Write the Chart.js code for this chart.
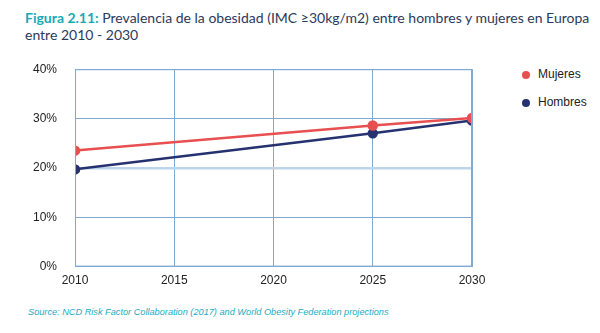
<!DOCTYPE html>
<html>
<head>
<meta charset="utf-8">
<script src="https://cdn.jsdelivr.net/npm/chart.js@4.4.0/dist/chart.umd.min.js"></script>
<style>
  body { margin: 0; background: #fff; width: 600px; height: 333px; position: relative; overflow: hidden; }
  .title { position: absolute; left: 25px; top: 9px; font-family: "Lato", sans-serif; font-size: 14px; line-height: 17px; color: #2b3a5a; white-space: nowrap; }
  .title b { color: #1aa9b6; font-weight: 700; }
  .wrap { position: absolute; left: 0; top: 44px; width: 500px; height: 251px; }
  .legend { position: absolute; left: 522px; top: 67px; font-family: "Liberation Sans", Arial, sans-serif; font-size: 12px; color: #222; }
  .legend div { height: 28px; display: flex; align-items: flex-start; }
  .legend span.dot { display: inline-block; width: 8px; height: 8px; border-radius: 50%; margin-right: 8px; margin-top: 4px; }
  .source { position: absolute; left: 28px; top: 307px; font-family: "Liberation Sans", Arial, sans-serif; font-size: 9.2px; font-style: italic; color: #21adbf; }
</style>
</head>
<body>
<div class="title"><b>Figura 2.11:</b> Prevalencia de la obesidad (IMC ≥30kg/m2) entre hombres y mujeres en Europa<br>entre 2010 - 2030</div>
<div class="wrap"><canvas id="chart"></canvas></div>
<div class="legend" id="legend"></div>
<div class="source">Source: NCD Risk Factor Collaboration (2017) and World Obesity Federation projections</div>
<script>
const years = [2010, 2025, 2030];
const mujeres = [23.5, 28.6, 30.1];
const hombres = [19.7, 27.0, 29.6];
const seriesNames = ['Mujeres', 'Hombres'];
const seriesColors = ['#e84f50', '#263270'];

function toPoints(values) {
  return values.map((v, i) => ({ x: years[i], y: v }));
}

const gridBlue = '#7eaad3';

const chart = new Chart(document.getElementById('chart'), {
  type: 'line',
  data: {
    datasets: [
      { label: seriesNames[0], data: toPoints(mujeres), borderColor: seriesColors[0], backgroundColor: seriesColors[0], borderWidth: 2.5, pointRadius: 4, pointHoverRadius: 4 },
      { label: seriesNames[1], data: toPoints(hombres), borderColor: seriesColors[1], backgroundColor: seriesColors[1], borderWidth: 2.5, pointRadius: 4, pointHoverRadius: 4 }
    ]
  },
  options: {
    responsive: true,
    maintainAspectRatio: false,
    animation: false,
    layout: { padding: { left: 15, right: 28, top: 6, bottom: 0 } },
    plugins: { legend: { display: false }, tooltip: { enabled: false } },
    scales: {
      x: {
        type: 'linear', min: 2010, max: 2030,
        grid: { color: gridBlue, lineWidth: 1, drawTicks: false },
        border: { color: gridBlue },
        ticks: { stepSize: 5, padding: 7, color: '#222', font: { family: 'Liberation Sans', size: 12 }, callback: v => String(v) }
      },
      y: {
        min: 0, max: 40,
        grid: {
          color: ctx => ctx.tick && ctx.tick.value === 20 ? '#bcd5ea' : gridBlue,
          lineWidth: ctx => ctx.tick && ctx.tick.value === 20 ? 2.5 : 1,
          drawTicks: false
        },
        border: { color: gridBlue },
        ticks: { stepSize: 10, padding: 18, color: '#222', font: { family: 'Liberation Sans', size: 12 }, callback: v => v + '%' }
      }
    }
  },
  plugins: [{
    id: 'frame',
    afterDraw(c) {
      const a = c.chartArea, ctx = c.ctx;
      ctx.save();
      ctx.strokeStyle = gridBlue;
      ctx.lineWidth = 1;
      ctx.strokeRect(a.left + 0.5, a.top + 0.5, a.right - a.left - 1, a.bottom - a.top - 1);
      ctx.restore();
    }
  }]
});

document.getElementById('legend').innerHTML = chart.data.datasets
  .map(d => '<div><span class="dot" style="background:' + d.borderColor + '"></span>' + d.label + '</div>').join('');
</script>
</body>
</html>
